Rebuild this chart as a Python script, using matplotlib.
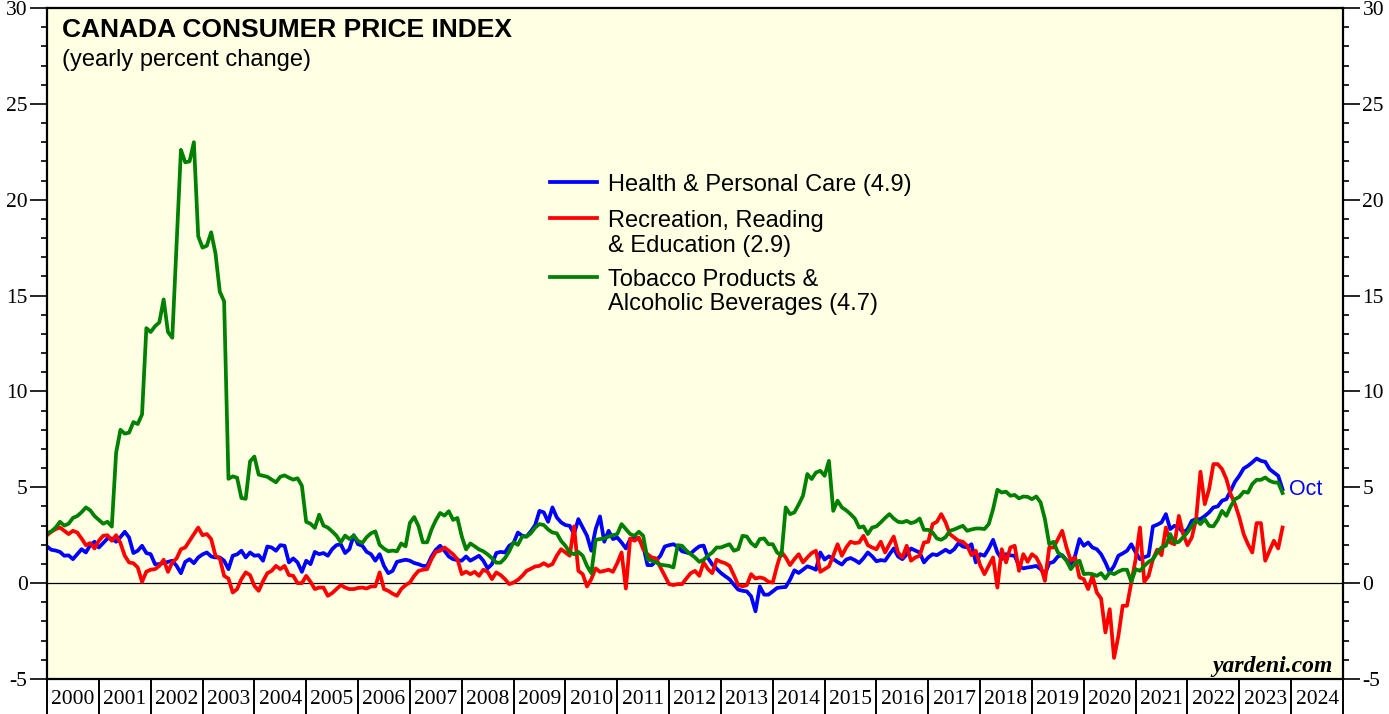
import matplotlib
matplotlib.use("Agg")
import matplotlib.pyplot as plt
import numpy as np
import pandas as pd
from matplotlib.ticker import MultipleLocator

plt.rcParams['font.family'] = ['Liberation Sans', 'DejaVu Sans']
plt.rcParams['axes.unicode_minus'] = False

# monthly observations, Dec 1999 .. Oct 2023 (yearly % change)
months = pd.period_range("1999-12", "2023-10", freq="M")

health = [
    1.91, 1.74, 1.7, 1.63, 1.43, 1.45, 1.25, 1.51, 1.77, 1.6, 1.98, 2.16,
    1.86, 2.09, 2.33, 2.33, 2.16, 2.4, 2.68, 2.38, 1.57, 1.69, 1.95, 1.57,
    1.51, 0.99, 0.99, 1.05, 1.11, 1.17, 0.9, 0.52, 1.11, 1.25, 1.04, 1.34,
    1.5, 1.6, 1.39, 1.34, 1.34, 1.17, 0.73, 1.43, 1.5, 1.69, 1.34, 1.6,
    1.43, 1.46, 1.17, 1.91, 1.86, 1.69, 1.98, 1.95, 1.08, 1.29, 1.08, 0.59,
    1.17, 0.99, 1.63, 1.51, 1.57, 1.43, 1.77, 1.98, 2.03, 1.57, 1.77, 2.5,
    2.03, 1.95, 1.63, 1.51, 1.17, 1.51, 0.9, 0.52, 0.64, 1.11, 1.17, 1.22,
    1.17, 1.05, 0.99, 0.9, 0.9, 1.39, 1.74, 1.95, 1.69, 1.39, 1.25, 1.2,
    1.17, 1.39, 1.17, 1.3, 1.43, 1.17, 0.77, 0.99, 1.57, 1.63, 1.6, 1.95,
    2.09, 2.64, 2.47, 2.43, 2.7, 3.03, 3.77, 3.69, 3.2, 3.95, 3.43, 3.17,
    3.03, 2.99, 2.56, 3.34, 2.9, 2.47, 1.69, 2.82, 3.48, 2.16, 2.73, 2.3,
    2.38, 2.12, 1.81, 2.3, 2.38, 2.3, 1.95, 0.94, 0.94, 1.17, 1.43, 1.91,
    1.98, 2.03, 1.9, 1.66, 1.6, 1.54, 1.75, 1.92, 1.96, 1.31, 0.97, 0.75,
    0.53, 0.36, 0.2, -0.08, -0.34, -0.4, -0.43, -0.69, -1.47, -0.17, -0.6, -0.6,
    -0.43, -0.25, -0.22, -0.2, 0.18, 0.67, 0.53, 0.7, 0.88, 0.8, 0.7, 1.6,
    1.23, 1.4, 1.26, 1.1, 0.97, 1.23, 1.31, 1.2, 1.05, 1.3, 1.6, 1.4,
    1.14, 1.2, 1.17, 1.5, 1.81, 1.39, 1.25, 1.5, 1.81, 1.7, 1.6, 1.08,
    1.34, 1.51, 1.46, 1.6, 1.74, 1.6, 1.77, 2.09, 1.91, 1.86, 2.03, 1.08,
    1.51, 1.43, 1.8, 2.26, 1.6, 1.25, 1.51, 1.45, 1.43, 0.9, 0.77, 0.82,
    0.85, 0.9, 0.73, 0.47, 1.04, 1.11, 1.39, 1.46, 1.2, 0.99, 1.43, 2.3,
    1.95, 2.12, 1.86, 1.77, 1.51, 1.08, 0.56, 0.9, 1.43, 1.55, 1.69, 2.03,
    1.6, 1.25, 1.35, 1.43, 2.96, 3.05, 3.17, 3.6, 2.82, 2.99, 2.9, 2.64,
    2.8, 3.25, 3.34, 3.34, 3.5, 3.69, 3.95, 4.0, 4.3, 4.38, 4.82, 5.29,
    5.6, 5.98, 6.12, 6.3, 6.5, 6.38, 6.33, 5.95, 5.77, 5.6, 4.9,
]

recreation = [
    2.5, 2.68, 2.82, 2.9, 2.73, 2.56, 2.73, 2.64, 2.33, 1.98, 2.09, 1.81,
    2.21, 2.47, 2.5, 2.21, 2.5, 2.09, 1.43, 1.08, 1.04, 0.82, 0.07, 0.6,
    0.7, 0.73, 0.9, 1.22, 0.59, 1.08, 1.29, 1.77, 1.86, 2.21, 2.56, 2.9,
    2.5, 2.56, 2.3, 1.43, 1.29, 0.38, 0.24, -0.49, -0.31, 0.21, 0.56, 0.42,
    -0.14, -0.4, 0.1, 0.52, 0.64, 0.9, 0.73, 0.9, 0.42, 0.38, 0.0, 0.0,
    0.38, 0.07, -0.31, -0.23, -0.23, -0.66, -0.52, -0.31, -0.1, -0.23, -0.31, -0.31,
    -0.25, -0.23, -0.28, -0.17, -0.17, 0.56, -0.31, -0.4, -0.55, -0.66, -0.31, -0.1,
    0.03, 0.38, 0.64, 0.7, 0.73, 1.25, 1.63, 1.69, 1.86, 1.69, 1.5, 1.25,
    0.47, 0.6, 0.47, 0.59, 0.38, 0.7, 0.59, 0.21, 0.56, 0.42, 0.21, -0.05,
    0.03, 0.17, 0.38, 0.64, 0.75, 0.87, 0.9, 1.04, 0.9, 0.99, 1.43, 1.77,
    1.6, 1.43, 2.96, 0.64, 0.47, -0.17, 0.21, 0.77, 0.59, 0.64, 0.7, 0.59,
    1.04, 1.6, -0.28, 2.33, 2.21, 2.38, 1.77, 1.51, 1.34, 1.29, 0.82, 0.38,
    -0.05, -0.1, -0.05, -0.05, 0.24, 0.52, 0.64, 0.38, 1.08, 0.73, 0.52, 1.22,
    1.11, 1.04, 0.9, 0.42, -0.1, -0.17, -0.1, 0.47, 0.24, 0.3, 0.24, 0.07,
    0.03, 0.9, 1.63, 1.34, 0.94, 1.25, 1.51, 1.08, 1.34, 1.57, 1.69, 0.59,
    0.73, 0.87, 1.43, 2.03, 1.43, 1.86, 2.16, 2.09, 2.12, 2.47, 1.98, 1.86,
    1.77, 2.16, 1.6, 2.03, 2.43, 1.6, 1.34, 1.95, 1.17, 1.34, 1.43, 2.12,
    2.16, 3.08, 3.2, 3.6, 3.17, 2.56, 2.38, 2.21, 2.16, 1.95, 1.46, 1.69,
    0.94, 0.47, 0.9, 1.34, -0.23, 1.77, 1.08, 1.86, 1.95, 0.64, 1.51, 1.11,
    1.51, 1.34, 0.9, 0.12, 1.86, 1.86, 2.3, 2.73, 1.86, 1.17, 1.34, 0.3,
    0.21, -0.31, 0.38, -0.49, -0.8, -2.57, -1.36, -3.9, -2.76, -1.18, -1.18, 0.03,
    1.25, 2.9, 0.07, 0.38, 1.25, 1.75, 1.46, 2.9, 2.12, 2.03, 3.51, 2.56,
    1.98, 2.38, 3.34, 5.81, 4.12, 4.9, 6.21, 6.21, 5.95, 5.43, 4.64, 4.12,
    3.43, 2.56, 2.03, 1.6, 3.13, 3.13, 1.17, 1.69, 2.21, 1.81, 2.9,
]

tobacco = [
    2.6, 2.7, 2.9, 3.2, 3.0, 3.1, 3.4, 3.5, 3.7, 3.95, 3.8, 3.5,
    3.3, 3.1, 3.2, 2.95, 6.8, 8.0, 7.8, 7.85, 8.4, 8.3, 8.8, 13.3,
    13.1, 13.4, 13.6, 14.8, 13.1, 12.8, 17.7, 22.6, 21.95, 22.0, 23.0, 18.1,
    17.5, 17.6, 18.3, 17.2, 15.2, 14.7, 5.44, 5.57, 5.5, 4.44, 4.4, 6.35,
    6.6, 5.66, 5.6, 5.55, 5.4, 5.26, 5.55, 5.62, 5.5, 5.4, 5.47, 5.08,
    3.2, 3.1, 2.88, 3.57, 3.0, 2.9, 2.7, 2.48, 2.13, 2.48, 2.3, 2.48,
    2.2, 2.1, 2.4, 2.6, 2.7, 2.0, 1.8, 1.66, 1.7, 1.66, 2.07, 1.92,
    3.14, 3.45, 2.97, 2.13, 2.13, 2.79, 3.28, 3.66, 3.52, 3.75, 3.3, 3.4,
    2.45, 1.76, 2.07, 1.92, 1.76, 1.66, 1.5, 1.3, 1.07, 1.07, 1.3, 1.66,
    2.13, 2.0, 2.43, 2.43, 2.6, 2.9, 3.08, 3.03, 2.8, 2.64, 2.6, 2.2,
    1.95, 1.6, 1.51, 1.63, 1.43, 0.9, 0.52, 2.26, 2.3, 2.33, 2.43, 2.5,
    2.56, 3.08, 2.82, 2.56, 2.47, 2.68, 2.47, 1.25, 1.17, 1.08, 0.96, 0.93,
    0.9, 0.82, 1.98, 1.95, 1.7, 1.51, 1.34, 1.11, 1.22, 1.43, 1.6, 1.86,
    1.86, 1.95, 2.03, 1.69, 1.77, 2.47, 2.43, 2.09, 1.91, 2.3, 2.33, 2.03,
    2.03, 1.6, 1.43, 3.95, 3.6, 3.69, 4.1, 4.56, 5.69, 5.43, 5.77, 5.86,
    5.6, 6.38, 3.77, 4.3, 3.95, 3.8, 3.6, 3.37, 2.9, 2.96, 2.56, 2.9,
    2.96, 3.17, 3.4, 3.6, 3.37, 3.2, 3.17, 3.25, 3.13, 3.2, 3.37, 2.78,
    2.78, 2.64, 2.33, 2.26, 2.4, 2.73, 2.8, 2.9, 2.99, 2.73, 2.8, 2.85,
    2.85, 2.82, 3.08, 3.86, 4.87, 4.73, 4.77, 4.56, 4.6, 4.42, 4.52, 4.5,
    4.38, 4.52, 4.21, 3.34, 2.03, 2.16, 1.6, 1.43, 1.17, 0.73, 1.04, 1.17,
    0.47, 0.5, 0.47, 0.38, 0.52, 0.24, 0.56, 0.47, 0.6, 0.7, 0.7, 0.07,
    0.73, 0.64, 0.9, 1.11, 1.25, 1.6, 1.86, 1.95, 2.56, 2.12, 2.15, 2.4,
    2.64, 3.0, 3.3, 3.08, 3.34, 2.99, 2.96, 3.3, 3.77, 3.51, 4.0, 4.38,
    4.5, 4.77, 4.72, 5.17, 5.39, 5.39, 5.51, 5.34, 5.25, 5.25, 4.7,
]

# legend entries: one or two text lines each
legend_lines = [
    ["Health & Personal Care (4.9)"],
    ["Recreation, Reading", "& Education (2.9)"],
    ["Tobacco Products &", "Alcoholic Beverages (4.7)"],
]
colors = ["#0000ff", "#ff0000", "#008000"]
years = list(range(2000, 2026))
year_labels = [str(y) for y in range(2000, 2025)]

# end-of-month position on a fractional-year axis
x = months.year.values + months.month.values / 12.0

fig = plt.figure(figsize=(13.89, 7.14), dpi=100)
ax = fig.add_axes([47 / 1389, 1 - 679 / 714, 1296 / 1389, 671 / 714])
ax.set_facecolor("#ffffe4")

ax.axhline(0, color="black", lw=0.9, zorder=1)
for vals, col in zip([health, recreation, tobacco], colors):
    ax.plot(x, vals, color=col, lw=2.7, solid_joinstyle="round")

ax.set_xlim(2000, 2025)
ax.set_ylim(-5, 30)

for sp in ax.spines.values():
    sp.set_linewidth(1.6)

# y axis on both sides
ax.yaxis.set_major_locator(MultipleLocator(5))
ax.yaxis.set_minor_locator(MultipleLocator(1))
ax.tick_params(axis="y", which="both", direction="out", left=True, right=True,
               labelleft=True, labelright=True, width=1.2)
ax.tick_params(axis="y", which="major", length=12, pad=2)
ax.tick_params(axis="y", which="minor", length=4.5)
for t in ax.get_yticklabels():
    t.set_fontfamily("Liberation Serif")
    t.set_fontsize(15.5)

# x axis: long year separators, labels centred inside each year
ax.set_xticks(years)
ax.set_xticklabels([])
ax.set_xticks([y + 0.5 for y in years[:-1]], minor=True)
ax.set_xticklabels(year_labels, minor=True, fontfamily="Liberation Serif", fontsize=15.5)
ax.tick_params(axis="x", which="major", direction="out", length=26, width=1.4)
ax.tick_params(axis="x", which="minor", length=0, pad=8)

ax.text(0.0116, 0.9568, "CANADA CONSUMER PRICE INDEX", transform=ax.transAxes,
        fontsize=19, fontweight="bold", va="baseline")
ax.text(0.0116, 0.913, "(yearly percent change)", transform=ax.transAxes,
        fontsize=17, va="baseline")

# legend, key line level with the first text line of each entry
first_line_y = [0.7407, 0.6870, 0.5991]
line_step = 0.0372
for lines, col, y0 in zip(legend_lines, colors, first_line_y):
    ax.plot([0.3881, 0.4244], [y0, y0], transform=ax.transAxes, color=col,
            lw=2.7, clip_on=False)
    for i, s in enumerate(lines):
        ax.text(0.4329, y0 - i * line_step - 0.0127, s, transform=ax.transAxes,
                fontsize=17, va="baseline", ha="left")

ax.text(x[-1] + 0.13, health[-1], "Oct", color="#0000ff", fontsize=15.5,
        va="center", ha="left")

ax.text(0.9923, 0.0104, "yardeni.com", transform=ax.transAxes, ha="right",
        va="baseline", fontsize=17, fontfamily="Liberation Serif",
        fontweight="bold", fontstyle="italic")

fig.savefig("out.png", dpi=100)
